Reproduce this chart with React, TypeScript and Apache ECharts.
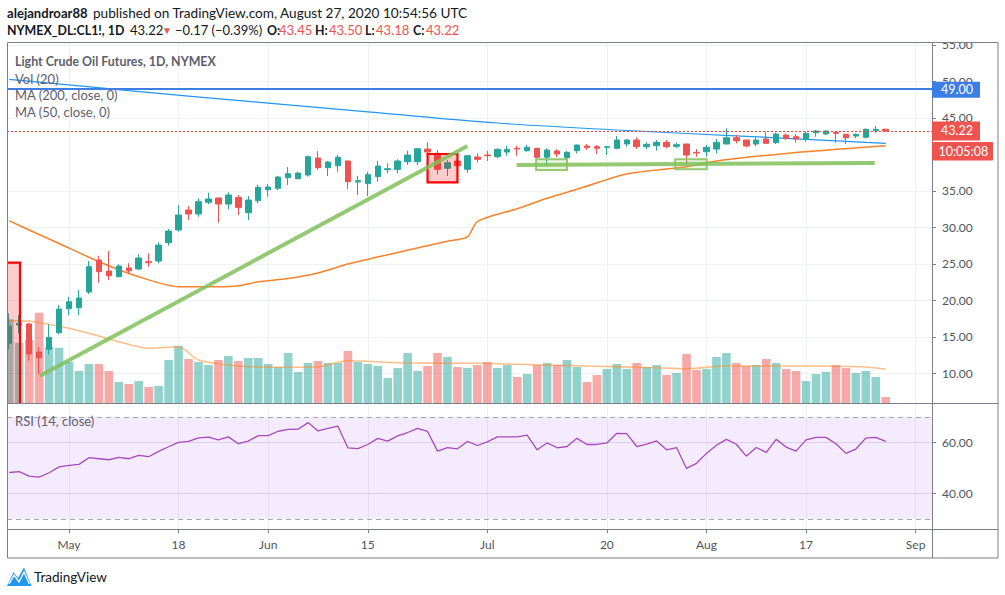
import React, { useEffect, useRef } from "react";
import * as echarts from "echarts";

// ---------- categories (trading days, 2020) ----------
const dates: string[] = [
  "04-22", "04-23", "04-24", "04-27", "04-28", "04-29", "04-30",
  "05-01", "05-04", "05-05", "05-06", "05-07", "05-08", "05-11", "05-12", "05-13", "05-14", "05-15", "05-18", "05-19", "05-20", "05-21", "05-22", "05-26", "05-27", "05-28", "05-29",
  "06-01", "06-02", "06-03", "06-04", "06-05", "06-08", "06-09", "06-10", "06-11", "06-12", "06-15", "06-16", "06-17", "06-18", "06-19", "06-22", "06-23", "06-24", "06-25", "06-26", "06-29", "06-30",
  "07-01", "07-02", "07-06", "07-07", "07-08", "07-09", "07-10", "07-13", "07-14", "07-15", "07-16", "07-17", "07-20", "07-21", "07-22", "07-23", "07-24", "07-27", "07-28", "07-29", "07-30", "07-31",
  "08-03", "08-04", "08-05", "08-06", "08-07", "08-10", "08-11", "08-12", "08-13", "08-14", "08-17", "08-18", "08-19", "08-20", "08-21", "08-24", "08-25", "08-26", "08-27", "08-28", "08-31",
  "09-01", "09-02", "09-03",
];
const firstBarDate = "04-23";

const timeLabels: [string, string][] = [
  ["05-01", "May"], ["05-18", "18"], ["06-01", "Jun"], ["06-15", "15"], ["07-01", "Jul"],
  ["07-20", "20"], ["08-03", "Aug"], ["08-17", "17"], ["09-01", "Sep"],
];
// 40.00 is hidden under the countdown label in the reference
const priceTicks = [10, 15, 20, 25, 30, 35, 45, 50, 55];
const rsiTicks = [40, 60];

// ---------- OHLC (Apr 23 .. Aug 27) ----------
const opens = [14.11, 16.62, 16.76, 12.92, 13.29, 15.56, 18.85, 18.99, 21.14, 25.53, 24.02, 23.24, 24.43, 24.30, 25.30, 25.39, 27.90, 29.64, 32.38, 31.84, 33.44, 34.03, 33.20, 34.12, 32.01, 33.66, 35.16, 35.36, 36.81, 36.67, 37.18, 39.51, 38.18, 38.45, 39.10, 36.22, 36.00, 36.95, 37.91, 37.95, 39.00, 39.00, 40.74, 40.15, 38.10, 39.10, 37.96, 39.65, 39.92, 39.69, 40.33, 40.84, 40.51, 40.84, 39.61, 40.47, 39.55, 40.51, 41.15, 41.06, 40.98, 40.84, 41.43, 41.98, 41.06, 41.20, 41.66, 41.11, 41.43, 40.29, 40.37, 40.74, 41.43, 42.29, 41.98, 41.43, 42.11, 41.61, 42.66, 42.43, 42.07, 42.98, 42.80, 43.03, 42.76, 42.52, 42.35, 43.25, 43.45];
const highs = [18.22, 17.99, 16.90, 13.65, 16.72, 19.36, 20.50, 21.42, 25.39, 26.12, 26.76, 24.94, 25.08, 26.31, 26.45, 27.95, 29.78, 33.07, 32.93, 33.99, 34.75, 34.10, 34.81, 34.44, 34.30, 35.81, 35.95, 37.04, 38.28, 37.63, 39.83, 40.47, 39.10, 39.92, 39.15, 37.04, 37.63, 39.10, 38.78, 39.33, 40.51, 40.92, 41.66, 40.60, 39.24, 39.15, 39.92, 40.15, 40.51, 40.84, 41.20, 41.20, 41.29, 40.90, 40.84, 40.70, 40.47, 41.35, 41.43, 41.29, 41.10, 42.52, 42.07, 42.35, 41.66, 41.98, 41.98, 41.61, 41.45, 40.74, 41.29, 42.11, 43.58, 42.66, 42.00, 42.35, 43.11, 42.98, 42.89, 42.80, 43.11, 43.35, 43.30, 43.05, 42.78, 42.89, 43.58, 43.90, 43.50];
const lows = [13.29, 15.48, 11.73, 9.90, 12.55, 15.35, 17.95, 17.95, 20.87, 22.42, 22.79, 23.16, 23.61, 24.16, 24.61, 25.08, 27.49, 29.41, 31.01, 31.46, 33.20, 30.64, 32.48, 31.70, 31.01, 33.30, 34.20, 35.12, 35.81, 36.59, 36.95, 37.86, 37.04, 37.63, 35.26, 34.44, 34.30, 36.26, 37.41, 37.41, 38.55, 38.55, 39.92, 37.27, 37.04, 38.40, 37.49, 38.92, 39.10, 39.47, 39.82, 39.82, 40.37, 39.47, 38.45, 39.61, 39.14, 40.15, 40.60, 40.06, 39.92, 40.70, 41.06, 40.74, 40.74, 40.51, 40.84, 40.84, 38.86, 39.69, 39.69, 40.15, 41.40, 41.52, 40.98, 41.15, 41.50, 41.43, 41.98, 41.61, 41.74, 42.43, 42.66, 41.61, 41.43, 42.21, 42.21, 42.98, 43.18];
const closes = [16.48, 16.85, 12.65, 12.14, 14.93, 18.81, 19.81, 20.32, 24.61, 23.93, 23.38, 24.71, 24.06, 25.80, 25.16, 27.58, 29.50, 31.70, 31.84, 33.52, 33.89, 33.20, 34.44, 32.75, 33.75, 35.49, 35.53, 36.90, 37.36, 37.45, 39.69, 38.18, 38.96, 39.61, 36.26, 36.40, 37.22, 38.41, 38.04, 39.10, 39.92, 40.78, 40.33, 37.96, 38.87, 38.45, 39.82, 39.33, 39.82, 40.70, 40.70, 40.74, 40.98, 39.61, 40.60, 40.06, 40.29, 41.29, 40.93, 40.84, 41.06, 41.98, 41.98, 41.06, 41.39, 41.66, 41.06, 41.33, 39.92, 40.20, 40.98, 41.66, 42.29, 41.88, 41.15, 41.98, 41.52, 42.80, 42.21, 42.11, 42.89, 43.21, 43.21, 42.89, 42.29, 42.76, 43.44, 43.44, 43.22];

// volume (thousand contracts, estimated)
const volumes = [588, 424, 443, 634, 396, 389, 289, 226, 275, 275, 226, 149, 135, 156, 114, 121, 303, 401, 310, 289, 268, 303, 331, 296, 317, 317, 275, 254, 352, 219, 282, 296, 282, 282, 366, 289, 275, 261, 177, 247, 352, 226, 261, 352, 324, 254, 247, 268, 289, 247, 268, 184, 205, 268, 282, 268, 303, 254, 149, 198, 240, 275, 240, 282, 254, 268, 198, 212, 345, 233, 240, 324, 352, 282, 261, 268, 310, 282, 240, 226, 156, 205, 219, 268, 247, 212, 226, 184, 44];

// RSI (14, close)
const rsi = [48.2, 48.5, 46.8, 46.4, 48.1, 50.4, 51.0, 51.4, 54.0, 53.6, 53.2, 54.1, 53.6, 54.9, 54.4, 56.5, 58.3, 60.0, 60.4, 61.8, 62.1, 61.0, 62.2, 59.5, 60.5, 62.7, 62.7, 64.4, 65.1, 65.2, 67.8, 64.5, 65.5, 66.4, 57.9, 57.6, 59.2, 61.6, 60.5, 62.6, 63.9, 65.5, 64.3, 56.6, 58.0, 57.5, 60.4, 58.8, 60.2, 62.2, 62.2, 62.2, 62.9, 57.1, 59.8, 57.9, 58.4, 61.6, 59.2, 59.2, 59.8, 63.6, 63.5, 58.4, 59.3, 60.6, 57.1, 58.0, 49.8, 51.8, 55.7, 58.9, 61.2, 59.3, 54.6, 58.0, 56.1, 61.2, 58.2, 56.6, 61.0, 62.0, 62.0, 59.5, 55.7, 57.4, 61.7, 62.0, 60.4];

// moving averages read at bars (bar number from Apr 23, value)
const ma200: [number, number][] = [[0, 50.3], [12, 48.75], [24, 47.27], [36, 45.83], [49, 44.31], [61, 43.35], [74, 42.48], [88, 41.52]];
const ma50: [number, number][] = [[0, 30.9], [2, 29.65], [5, 27.8], [9, 25.3], [13, 23.24], [17, 21.87], [21, 21.87], [23, 22.0], [25, 22.55], [28, 22.99], [31, 23.75], [34, 24.98], [39, 26.56], [44, 28.1], [46, 28.7], [47, 30.8], [51, 32.56], [54, 33.99], [57, 35.22], [62, 37.32], [68, 38.32], [71, 39.1], [78, 40.14], [88, 41.19]];
const volMa20: [number, number][] = [[0, 578], [2, 576], [3, 566], [6, 525], [9, 471], [11, 431], [14, 385], [17, 396], [19, 303], [23, 261], [27, 252], [31, 256], [34, 298], [39, 284], [47, 280], [51, 273], [58, 261], [65, 249], [68, 242], [72, 261], [79, 261], [86, 254], [88, 238]];

// user drawings (bar number, price)
const trendLines: [number, number, number, number][] = [[3.09, 9.67, 46.0, 41.15], [50.95, 38.55, 86.9, 38.83]];
const boxes: [number, number, number, number, number][] = [
  [-2, 25.16, 1.08, 3.0, 0],
  [42.0, 40.06, 45.0, 36.18, 0],
  [52.9, 39.33, 56.0, 37.87, 1],
  [66.85, 39.33, 70.03, 37.96, 1],
];
const horizontalLevel = 49.0;
const lastPrice = 43.22;

// header pieces: [text, kind] ; kind: b = bold, n = normal, r = red, t = triangle
const headerLine2: [string, string][] = [
  ["NYMEX_DL:CL1!, 1D", "b"], ["43.22", "n"], ["▼", "t"], ["−0.17 (−0.39%)", "n"],
  ["O:", "b"], ["43.45", "r"], ["H:", "b"], ["43.50", "r"], ["L:", "b"], ["43.18", "r"], ["C:", "b"], ["43.22", "r"],
];
const headerLine2X = [7, 130, 162, 175, 267, 279, 315, 329, 365, 376, 413, 426];

// ---------- styles ----------
const FONT = 'Lato, "Open Sans", "Liberation Sans", sans-serif';
const UP = "#26a69a";
const DOWN = "#ef5350";
const GRID = "#eef1f6";
const FRAME = "#7b7e88";
const AXIS_TXT = "#50535e";

const X0 = dates.indexOf(firstBarDate);
const kOf = (bar: number) => bar + X0;
const X_MIN = 0.775;
const X_MAX = 93.646;

function buildOption(): any {
  const tickKs = timeLabels.map(([d]) => dates.indexOf(d));
  const labelMap = new Map<number, string>();
  timeLabels.forEach(([d, t]) => labelMap.set(dates.indexOf(d), t));

  const candleData = opens.map((o, i) => [kOf(i), o, closes[i], lows[i], highs[i]]);
  const volData = volumes.map((v, i) => ({
    value: [kOf(i), v],
    itemStyle: { color: closes[i] >= opens[i] ? "rgba(38,166,154,0.5)" : "rgba(239,83,80,0.5)" },
  }));
  const rsiData = rsi.map((v, i) => [kOf(i), v]);
  const toK = (arr: [number, number][]) => arr.map(([b, v]) => [kOf(b), v]);

  const xBase = {
    type: "value",
    min: X_MIN,
    max: X_MAX,
    splitLine: { show: false },
  };

  return {
    animation: false,
    backgroundColor: "#ffffff",
    textStyle: { fontFamily: FONT },
    grid: [
      { left: 7, top: 42, width: 925, height: 361.3, outerBoundsMode: "none" },
      { left: 7, top: 404, width: 925, height: 125, outerBoundsMode: "none" },
    ],
    xAxis: [
      { ...xBase, gridIndex: 0, show: false },
      {
        ...xBase,
        gridIndex: 1,
        position: "bottom",
        axisLine: { show: false },
        axisTick: { show: true, length: 4, customValues: tickKs, lineStyle: { color: FRAME } },
        axisLabel: {
          show: true,
          customValues: tickKs,
          margin: 9,
          fontSize: 12,
          color: AXIS_TXT,
          fontFamily: FONT,
          formatter: (v: number) => labelMap.get(Math.round(v)) ?? "",
        },
      },
    ],
    yAxis: [
      {
        type: "value",
        gridIndex: 0,
        position: "right",
        min: 5.89,
        max: 55.41,
        splitNumber: 10,
        axisLine: { show: false },
        axisTick: { show: true, length: 4, customValues: priceTicks, lineStyle: { color: FRAME } },
        axisLabel: {
          customValues: priceTicks,
          margin: 10,
          fontSize: 12,
          color: AXIS_TXT,
          fontFamily: FONT,
          formatter: (v: number) => v.toFixed(2),
        },
        splitLine: { show: true, lineStyle: { color: GRID, width: 1 } },
      },
      { type: "value", gridIndex: 0, min: 0, max: 2529, show: false, splitLine: { show: false } },
      {
        type: "value",
        gridIndex: 1,
        position: "right",
        min: 26.0,
        max: 75.1,
        axisLine: { show: false },
        axisTick: { show: true, length: 4, customValues: rsiTicks, lineStyle: { color: FRAME } },
        axisLabel: {
          customValues: rsiTicks,
          margin: 10,
          fontSize: 12,
          color: AXIS_TXT,
          fontFamily: FONT,
          formatter: (v: number) => v.toFixed(2),
        },
        splitLine: { show: false },
      },
    ],
    series: [
      // vertical grid lines in price pane
      {
        type: "line",
        xAxisIndex: 0,
        yAxisIndex: 1,
        data: [],
        silent: true,
        z: 0,
        markLine: {
          silent: true,
          z: 0,
          symbol: "none",
          label: { show: false },
          lineStyle: { color: GRID, width: 1, type: "solid" },
          data: tickKs.map((k) => ({ xAxis: k })),
        },
      },
      {
        name: "Vol",
        type: "bar",
        xAxisIndex: 0,
        yAxisIndex: 1,
        barWidth: 8.6,
        data: volData,
        z: 1,
      },
      {
        name: "Vol MA",
        type: "line",
        xAxisIndex: 0,
        yAxisIndex: 1,
        data: toK(volMa20),
        symbol: "none",
        smooth: 0.3,
        lineStyle: { color: "rgba(255,140,40,0.55)", width: 1.6 },
        z: 2,
      },
      {
        name: "MA 200",
        type: "line",
        xAxisIndex: 0,
        yAxisIndex: 0,
        data: toK(ma200),
        symbol: "none",
        smooth: 0.4,
        lineStyle: { color: "#2196f3", width: 1.2 },
        z: 3,
      },
      {
        name: "MA 50",
        type: "line",
        xAxisIndex: 0,
        yAxisIndex: 0,
        data: toK(ma50),
        symbol: "none",
        smooth: 0.25,
        lineStyle: { color: "#f7822a", width: 1.5 },
        z: 3,
      },
      {
        name: "CL1!",
        type: "candlestick",
        xAxisIndex: 0,
        yAxisIndex: 0,
        barWidth: 6,
        encode: { x: 0, y: [1, 2, 3, 4] },
        data: candleData,
        itemStyle: { color: UP, color0: DOWN, borderColor: UP, borderColor0: DOWN, borderWidth: 1 },
        z: 4,
        markLine: {
          silent: true,
          symbol: "none",
          label: { show: false },
          lineStyle: { color: "#3d7ee6", width: 2, type: "solid" },
          data: [{ yAxis: horizontalLevel }],
        },
      },
      // drawings: trend lines
      ...trendLines.map(([b1, p1, b2, p2]) => ({
        type: "line",
        xAxisIndex: 0,
        yAxisIndex: 0,
        data: [[kOf(b1), p1], [kOf(b2), p2]],
        symbol: "none",
        silent: true,
        lineStyle: { color: "rgba(128,191,90,0.85)", width: 4 },
        z: 6,
      })),
      // drawings: rectangles
      {
        type: "custom",
        xAxisIndex: 0,
        yAxisIndex: 0,
        clip: true,
        silent: true,
        z: 6,
        encode: { x: [0, 2], y: [1, 3] },
        data: boxes.map(([b1, p1, b2, p2, kind]) => [kOf(b1), p1, kOf(b2), p2, kind]),
        renderItem: (params: any, api: any) => {
          const a = api.coord([api.value(0), api.value(1)]);
          const b = api.coord([api.value(2), api.value(3)]);
          const red = api.value(4) === 0;
          return {
            type: "rect",
            shape: {
              x: Math.min(a[0], b[0]),
              y: Math.min(a[1], b[1]),
              width: Math.abs(b[0] - a[0]),
              height: Math.abs(b[1] - a[1]),
            },
            style: red
              ? { fill: "rgba(255,0,0,0.2)", stroke: "#ff0000", lineWidth: 2.2 }
              : { fill: "rgba(150,205,110,0.2)", stroke: "rgba(140,195,100,0.9)", lineWidth: 2 },
          };
        },
      },
      // RSI pane background: grid lines and band
      {
        type: "line",
        xAxisIndex: 1,
        yAxisIndex: 2,
        data: [],
        silent: true,
        z: 0,
        markLine: {
          silent: true,
          z: 0,
          symbol: "none",
          label: { show: false },
          lineStyle: { color: GRID, width: 1, type: "solid" },
          data: [
            ...tickKs.map((k) => ({ xAxis: k })),
            { yAxis: 60, lineStyle: { color: "#e6def2", width: 1, type: "solid" } },
            { yAxis: 40, lineStyle: { color: "#e6def2", width: 1, type: "solid" } },
          ],
        },
        markArea: {
          silent: true,
          itemStyle: { color: "rgba(155,80,240,0.11)" },
          data: [[{ yAxis: 70 }, { yAxis: 30 }]],
        },
      },
      {
        name: "RSI",
        type: "line",
        xAxisIndex: 1,
        yAxisIndex: 2,
        data: rsiData,
        symbol: "none",
        lineStyle: { color: "#ab47bc", width: 1.3 },
        z: 3,
        markLine: {
          silent: true,
          symbol: "none",
          label: { show: false },
          lineStyle: { color: "#a9a3b0", width: 1, type: [5, 4] },
          data: [{ yAxis: 70 }, { yAxis: 30 }],
        },
      },
    ],
  };
}

function txt(x: number, y: number, text: string, extra: any = {}): any {
  return {
    type: "text",
    x,
    y,
    silent: true,
    z: 120,
    style: {
      text,
      fontFamily: FONT,
      fontSize: 13,
      fill: "#131722",
      verticalAlign: "middle",
      ...extra,
    },
  };
}

function buildGraphic(y49: number, yLast: number): any[] {
  const line = (x1: number, y1: number, x2: number, y2: number) => ({
    type: "line",
    silent: true,
    z: 110,
    shape: { x1, y1, x2, y2 },
    style: { stroke: FRAME, lineWidth: 1 },
  });
  const kindStyle: Record<string, any> = {
    b: { fontWeight: "bold", fontSize: 12.4 },
    n: { fontSize: 13 },
    r: { fontSize: 13, fill: DOWN },
    t: { fontSize: 10, fill: DOWN },
  };
  const line2 = headerLine2.map(([t, kind], i) => txt(headerLine2X[i], 30, t, kindStyle[kind]));
  const yDot = Math.round(yLast) + 0.5;
  return [
    // last price line (dotted red), placed from the price scale
    {
      type: "line",
      silent: true,
      z: 50,
      shape: { x1: 7, y1: yDot, x2: 932, y2: yDot },
      style: { stroke: "#f0403d", lineWidth: 1, lineDash: [2, 2] },
    },
    // covers
    { type: "rect", silent: true, z: 105, shape: { x: 0, y: 40, width: 7, height: 520 }, style: { fill: "#fff" } },
    { type: "rect", silent: true, z: 105, shape: { x: 933, y: 30, width: 66, height: 12 }, style: { fill: "#fff" } },
    // frame
    { type: "rect", silent: true, z: 110, shape: { x: 7.5, y: 42.5, width: 990.5, height: 515.5 }, style: { fill: "none", stroke: FRAME, lineWidth: 1 } },
    line(932.5, 42, 932.5, 558),
    line(7, 403.5, 998, 403.5),
    line(7, 529.5, 998, 529.5),
    // header
    txt(7, 13, "alejandroar88", { fontWeight: "bold", fontSize: 13.1 }),
    txt(93, 13, "published on TradingView.com, August 27, 2020 10:54:56 UTC", { fontSize: 13.6 }),
    ...line2,
    // legend
    txt(15, 61, "Light Crude Oil Futures, 1D, NYMEX", { fontWeight: "bold", fill: "#5d606b", fontSize: 12.4 }),
    txt(15, 78.5, "Vol (20)", { fill: "#5d606b" }),
    txt(15, 95, "MA (200, close, 0)", { fill: "#5d606b" }),
    txt(15, 111.5, "MA (50, close, 0)", { fill: "#5d606b" }),
    txt(15, 420.5, "RSI (14, close)", { fill: "#5d606b" }),
    // price labels
    { type: "rect", silent: true, z: 115, shape: { x: 932, y: y49 - 7, width: 48, height: 16 }, style: { fill: "#3d7ee6" } },
    txt(941, y49 + 1, horizontalLevel.toFixed(2), { fill: "#fff", fontSize: 12.5 }),
    { type: "rect", silent: true, z: 115, shape: { x: 932, y: yLast - 9.5, width: 48, height: 19 }, style: { fill: DOWN } },
    txt(941, yLast, lastPrice.toFixed(2), { fill: "#fff", fontSize: 12.5 }),
    { type: "rect", silent: true, z: 115, shape: { x: 932, y: yLast + 11, width: 61, height: 18.5 }, style: { fill: DOWN } },
    txt(938.5, yLast + 20.5, "10:05:08", { fill: "#fff", fontSize: 12.5 }),
    // logo
    {
      type: "polygon",
      silent: true,
      z: 110,
      shape: { points: [[7, 586], [13.5, 572], [18, 578], [24, 567.5], [31.5, 586]] },
      style: { fill: "#2196f3" },
    },
    {
      type: "polyline",
      silent: true,
      z: 111,
      shape: { points: [[9, 584], [14, 575], [19, 582], [24, 572], [29.5, 584]] },
      style: { stroke: "#ffffff", lineWidth: 1.4, fill: "none" },
    },
    txt(34, 577, "TradingView", { fontSize: 13.5, fill: "#131722" }),
  ];
}

const App: React.FC = () => {
  const ref = useRef<HTMLDivElement>(null);
  useEffect(() => {
    if (!ref.current) return;
    const chart = echarts.init(ref.current, null, { renderer: "svg" });
    chart.setOption(buildOption());
    const y49 = chart.convertToPixel({ yAxisIndex: 0 }, horizontalLevel) as number;
    const yLast = chart.convertToPixel({ yAxisIndex: 0 }, lastPrice) as number;
    chart.setOption({ graphic: buildGraphic(y49, yLast) });
    return () => chart.dispose();
  }, []);
  return (
    <div
      ref={ref}
      style={{ position: "fixed", left: 0, top: 0, width: 1005, height: 595, background: "#fff" }}
    />
  );
};

export default App;
